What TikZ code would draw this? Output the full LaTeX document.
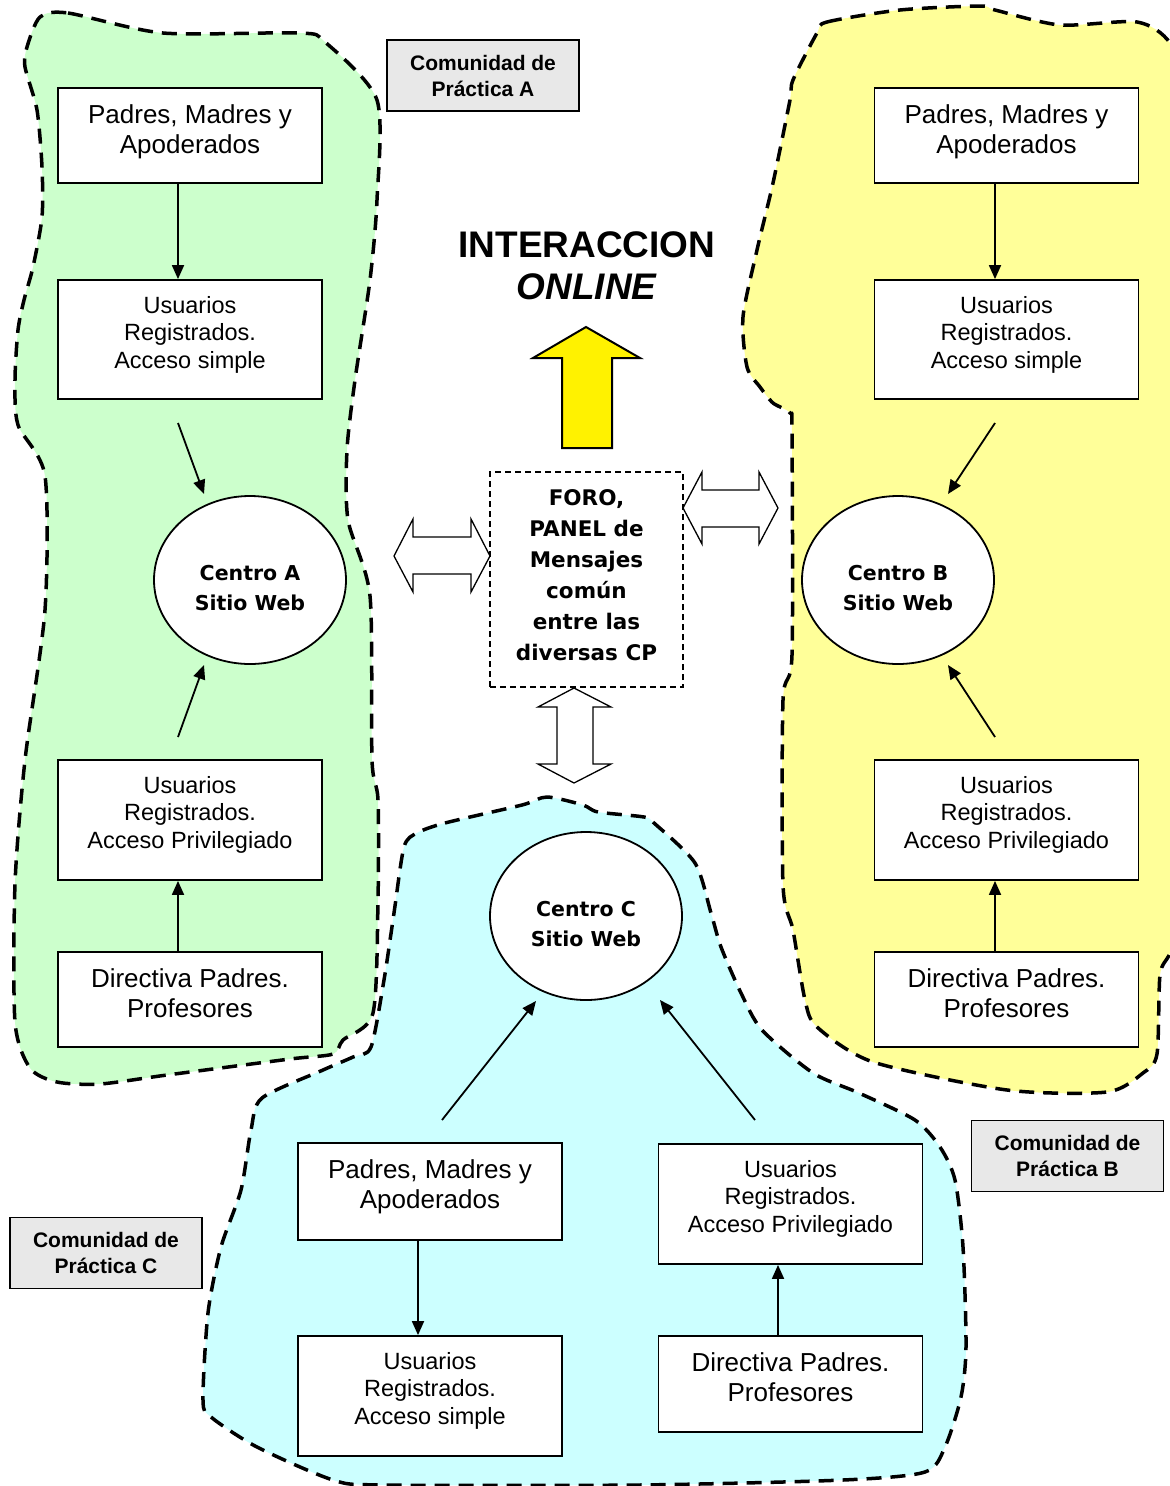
\documentclass[tikz,border=0pt]{standalone}
\usepackage{fontspec}
\setmainfont{Liberation Sans}
\newfontfamily\tahoma{DejaVu Sans}
\usetikzlibrary{shapes.geometric,arrows.meta}
\definecolor{blobA}{RGB}{204,255,204}
\definecolor{blobB}{RGB}{255,255,153}
\definecolor{blobC}{RGB}{204,255,255}
\definecolor{labgray}{RGB}{232,232,232}
\newcommand\btxt[2]{\parbox[c][#1][t]{262pt}{\centering\vspace*{14pt}\strut #2}}
\begin{document}
\begin{tikzpicture}[x=1pt,y=-1pt,
  blob/.style={line width=3.5pt, dash pattern=on 15pt off 9pt, line join=round},
  box/.style={draw, line width=1.8pt, fill=white, rectangle, inner sep=0pt, minimum width=264pt},
  bigf/.style={font=\fontsize{26}{30}\selectfont},
  smallf/.style={font=\fontsize{23.5}{27.5}\selectfont},
  centro/.style={draw, ellipse, line width=1.8pt, fill=white, inner sep=0pt, minimum width=192pt, minimum height=168pt, align=center, font=\tahoma\bfseries\fontsize{20.5}{29.5}\selectfont},
  labbox/.style={draw, line width=1.8pt, fill=labgray, rectangle, inner sep=0pt, minimum width=192pt, minimum height=71pt, align=center, font=\bfseries\fontsize{21}{26}\selectfont},
  arr/.style={line width=1.8pt, -{Triangle[length=14pt,width=12pt]}},
  blockarr/.style={draw, line width=1.3pt, fill=white, line join=miter}
]
\useasboundingbox (0,0) rectangle (1170,1486);
\clip (0,0) rectangle (1170,1486);

% community blobs
\draw[blob, fill=blobA] plot[smooth cycle, tension=0.45] coordinates {
 (40,17) (68,13) (163,33) (300,33) (325,42) (377,100) (377,200) (370,280)
 (355,380) (347,450) (348,520) (370,596) (372,760) (378,800) (378,900)
 (373,1013) (343,1040) (333,1054) (290,1059) (167,1075) (100,1084) (57,1082)
 (30,1068) (15,1022) (15,884) (25,760) (45,610) (45,476) (18,425) (15,380)
 (18,330) (24,300) (33,267) (42,217) (42,167) (37,110) (25,67) (27,47)};
\draw[blob, fill=blobB] plot[smooth cycle, tension=0.45] coordinates {
 (817,33) (827,22) (900,10) (980,6) (995,10) (1060,25) (1137,22) (1170,43)
 (1190,100) (1190,900) (1170,953) (1160,975) (1157,1054) (1143,1073) (1107,1092)
 (1007,1090) (873,1062) (817,1027) (805,1000) (793,930) (783,885) (783,700)
 (792,655) (792,433) (790,413) (773,403) (760,387) (747,367) (743,317)
 (757,250) (773,183) (790,100) (793,80)};
\draw[blob, fill=blobC] plot[smooth cycle, tension=0.45] coordinates {
 (417,833) (445,823) (522,805) (547,797) (583,805) (598,812) (644,817) (654,823)
 (695,863) (711,913) (721,947) (741,993) (762,1030) (813,1073) (859,1093)
 (915,1120) (940,1147) (955,1180) (963,1247) (966,1347) (961,1397) (945,1447)
 (925,1472) (843,1480) (639,1485) (384,1485) (333,1480) (257,1447) (211,1417)
 (203,1400) (208,1313) (221,1247) (241,1190) (251,1130) (262,1098) (323,1070)
 (353,1057) (371,1047) (384,980) (394,913) (404,847)};

% labels
\node[labbox] (labA) at (483,75.5) {Comunidad de\\Práctica A};
\node[labbox] (labB) at (1067.5,1156) {Comunidad de\\Práctica B};
\node[labbox] (labC) at (106,1253) {Comunidad de\\Práctica C};

% Community A
\node[box, bigf, minimum height=95pt] (a1) at (190,135.5) {\btxt{95pt}{Padres, Madres y\\Apoderados}};
\node[box, smallf, minimum height=119pt] (a2) at (190,339.5) {\btxt{119pt}{Usuarios\\Registrados.\\Acceso simple}};
\node[centro] (ea) at (250,580) {\rule{0pt}{31pt}Centro A\\Sitio Web};
\node[box, smallf, minimum height=120pt] (a3) at (190,820) {\btxt{120pt}{Usuarios\\Registrados.\\Acceso Privilegiado}};
\node[box, bigf, minimum height=95pt] (a4) at (190,999.5) {\btxt{95pt}{Directiva Padres.\\Profesores}};
\coordinate (xa) at (178,0);
\draw[arr] (a1.south -| xa) -- (a2.north -| xa);
\draw[arr] (a4.north -| xa) -- (a3.south -| xa);
\coordinate (ta1) at (178,423); \coordinate (ha1) at (204,494);
\coordinate (ta2) at (178,737); \coordinate (ha2) at (204,665);
\draw[arr] (ta1) -- (ha1);
\draw[arr] (ta2) -- (ha2);

% Community B
\node[box, bigf, minimum height=95pt] (b1) at (1006.5,135.5) {\btxt{95pt}{Padres, Madres y\\Apoderados}};
\node[box, smallf, minimum height=119pt] (b2) at (1006.5,339.5) {\btxt{119pt}{Usuarios\\Registrados.\\Acceso simple}};
\node[centro] (eb) at (898,580) {\rule{0pt}{31pt}Centro B\\Sitio Web};
\node[box, smallf, minimum height=120pt] (b3) at (1006.5,820) {\btxt{120pt}{Usuarios\\Registrados.\\Acceso Privilegiado}};
\node[box, bigf, minimum height=95pt] (b4) at (1006.5,999.5) {\btxt{95pt}{Directiva Padres.\\Profesores}};
\coordinate (xb) at (995,0);
\draw[arr] (b1.south -| xb) -- (b2.north -| xb);
\draw[arr] (b4.north -| xb) -- (b3.south -| xb);
\coordinate (tb1) at (995,423); \coordinate (hb1) at (948,494);
\coordinate (tb2) at (995,737); \coordinate (hb2) at (948,665);
\draw[arr] (tb1) -- (hb1);
\draw[arr] (tb2) -- (hb2);

% Community C
\node[centro] (ec) at (586,916) {\rule{0pt}{31pt}Centro C\\Sitio Web};
\node[box, bigf, minimum height=97pt] (c1) at (430,1191.5) {\btxt{97pt}{Padres, Madres y\\Apoderados}};
\node[box, smallf, minimum height=120pt] (c2) at (430,1396) {\btxt{120pt}{Usuarios\\Registrados.\\Acceso simple}};
\node[box, smallf, minimum height=120pt] (c3) at (790.5,1204) {\btxt{120pt}{Usuarios\\Registrados.\\Acceso Privilegiado}};
\node[box, bigf, minimum height=96pt] (c4) at (790.5,1384) {\btxt{96pt}{Directiva Padres.\\Profesores}};
\coordinate (xc1) at (418,0);
\coordinate (xc2) at (778,0);
\draw[arr] (c1.south -| xc1) -- (c2.north -| xc1);
\draw[arr] (c4.north -| xc2) -- (c3.south -| xc2);
\coordinate (tc1) at (442,1120); \coordinate (hc1) at (536,1001);
\coordinate (tc2) at (755,1120); \coordinate (hc2) at (660,1000);
\draw[arr] (tc1) -- (hc1);
\draw[arr] (tc2) -- (hc2);

% centre: forum
\node[draw, rectangle, line width=1.5pt, dash pattern=on 6pt off 4pt, fill=white,
      minimum width=193pt, minimum height=215pt, inner sep=0pt, align=center,
      font=\tahoma\bfseries\fontsize{21.5}{31}\selectfont] (foro) at (586.5,579.5)
  {FORO,\\PANEL de\\Mensajes\\común\\entre las\\diversas CP\rule[-8pt]{0pt}{8pt}};

\node[align=center, inner sep=0pt, font=\bfseries\fontsize{37}{42}\selectfont] (inter) at (587,266)
  {INTERACCION\\\textit{ONLINE}};

% yellow up arrow
\draw[line width=2pt, fill=yellow, line join=miter]
  (562,448) -- (562,358) -- (533,358) -- (586,327) -- (640,358) -- (612,358) -- (612,448) -- cycle;

% double block arrows
\draw[blockarr] (394,556) -- (413,519) -- (413,537) -- (471,537) -- (471,519) -- (490,556)
  -- (471,592) -- (471,574) -- (413,574) -- (413,592) -- cycle;
\draw[blockarr] (683,508) -- (702,472) -- (702,490) -- (759,490) -- (759,472) -- (778,508)
  -- (759,544) -- (759,527) -- (702,527) -- (702,544) -- cycle;
\draw[blockarr] (574,688) -- (611,707) -- (593,707) -- (593,764) -- (611,764) -- (574,783)
  -- (538,764) -- (557,764) -- (557,707) -- (538,707) -- cycle;
\end{tikzpicture}
\end{document}
